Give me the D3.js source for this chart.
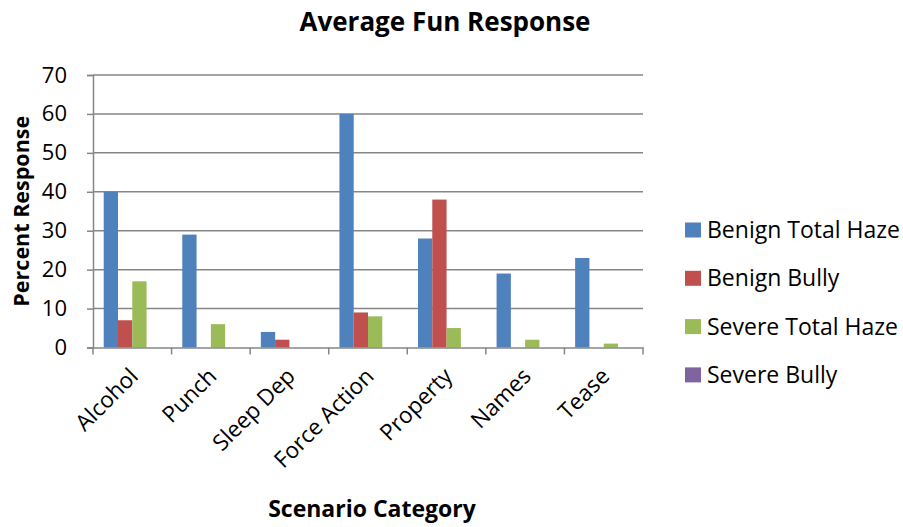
<!DOCTYPE html>
<html><head><meta charset="utf-8">
<script src="https://cdn.jsdelivr.net/npm/d3@7"></script>
<style>body{margin:0;background:#fff;} text{font-family:"Open Sans",sans-serif;}</style>
</head><body>
<svg id="c" width="903" height="527"></svg>
<script>
const categories = ["Alcohol","Punch","Sleep Dep","Force Action","Property","Names","Tease"];
const seriesNames = ["Benign Total Haze","Benign Bully","Severe Total Haze","Severe Bully"];
const benignTotalHaze = [40,29,4,60,28,19,23];
const benignBully = [7,0,2,9,38,0,0];
const severeTotalHaze = [17,6,0,8,5,2,1];
const severeBully = [0,0,0,0,0,0,0];
const yTicks = [0,10,20,30,40,50,60,70];
const colors = ["#4F81BD","#C0504D","#9BBB59","#8064A2"];

const series = [benignTotalHaze, benignBully, severeTotalHaze, severeBully];
const svg = d3.select("#c");
const m = {left:93, right:643, top:75, bottom:347.5};
const x = d3.scaleBand().domain(categories).range([m.left, m.right]).paddingInner(0).paddingOuter(0);
const y = d3.scaleLinear().domain([0,70]).range([m.bottom, m.top]);
const bw = x.bandwidth()/5.5;

// gridlines
svg.append("g").selectAll("line").data(yTicks.filter(d=>d>0)).join("line")
  .attr("x1", m.left).attr("x2", m.right).attr("y1", d=>y(d)).attr("y2", d=>y(d))
  .attr("stroke","#868686").attr("stroke-width",1.5);

// bars
series.forEach((s,i)=>{
  svg.append("g").selectAll("rect").data(s.map((v,j)=>({v,c:categories[j]}))).join("rect")
    .attr("x", d=>x(d.c) + bw*0.75 + i*bw)
    .attr("y", d=>y(d.v))
    .attr("width", bw)
    .attr("height", d=>y(0)-y(d.v))
    .attr("fill", colors[i]);
});

// y axis
const ya = svg.append("g").attr("transform",`translate(${m.left},0)`)
  .call(d3.axisLeft(y).tickValues(yTicks).tickSize(6).tickPadding(20));
ya.select(".domain").attr("stroke","#868686").attr("stroke-width",1.5);
ya.selectAll(".tick line").attr("stroke","#868686").attr("stroke-width",1.5);
ya.selectAll(".tick text").attr("font-size",22).attr("font-family","Open Sans").attr("fill","#000");

// x axis
const xa = svg.append("g").attr("transform",`translate(0,${m.bottom})`)
  .call(d3.axisBottom(x).tickSize(0).tickFormat(""));
xa.select(".domain").attr("stroke","#868686").attr("stroke-width",1.5);
const tickPos = d3.range(categories.length+1).map(i=>m.left + i*x.step());
svg.append("g").selectAll("line").data(tickPos).join("line")
  .attr("x1",d=>d).attr("x2",d=>d).attr("y1",m.bottom).attr("y2",m.bottom+7)
  .attr("stroke","#868686").attr("stroke-width",1.5);

svg.append("g").selectAll("text").data(categories).join("text")
  .attr("transform", d=>`translate(${x(d)+x.bandwidth()/2-4},${m.bottom+19}) rotate(-45)`)
  .attr("text-anchor","end").attr("dy","0.7em")
  .attr("font-size",22.5).attr("fill","#000").text(d=>d);

// titles
svg.append("text").attr("x",445).attr("y",31).attr("text-anchor","middle")
  .attr("font-size",26).attr("font-weight","bold").text("Average Fun Response");
svg.append("text").attr("transform",`translate(29,${(m.top+m.bottom)/2}) rotate(-90)`)
  .attr("text-anchor","middle").attr("font-size",21.5).attr("font-weight","bold").text("Percent Response");
svg.append("text").attr("x",372).attr("y",517).attr("text-anchor","middle")
  .attr("font-size",23).attr("font-weight","bold").text("Scenario Category");

// legend
const lg = svg.append("g").selectAll("g").data(seriesNames).join("g")
  .attr("transform",(d,i)=>`translate(685,${230 + i*48.3})`);
lg.append("rect").attr("x",0).attr("y",-7.5).attr("width",16).attr("height",15).attr("fill",(d,i)=>colors[i]);
lg.append("text").attr("x",22).attr("y",0).attr("dy","0.35em").attr("font-size",23).attr("fill","#000").text(d=>d);
</script>
</body></html>
